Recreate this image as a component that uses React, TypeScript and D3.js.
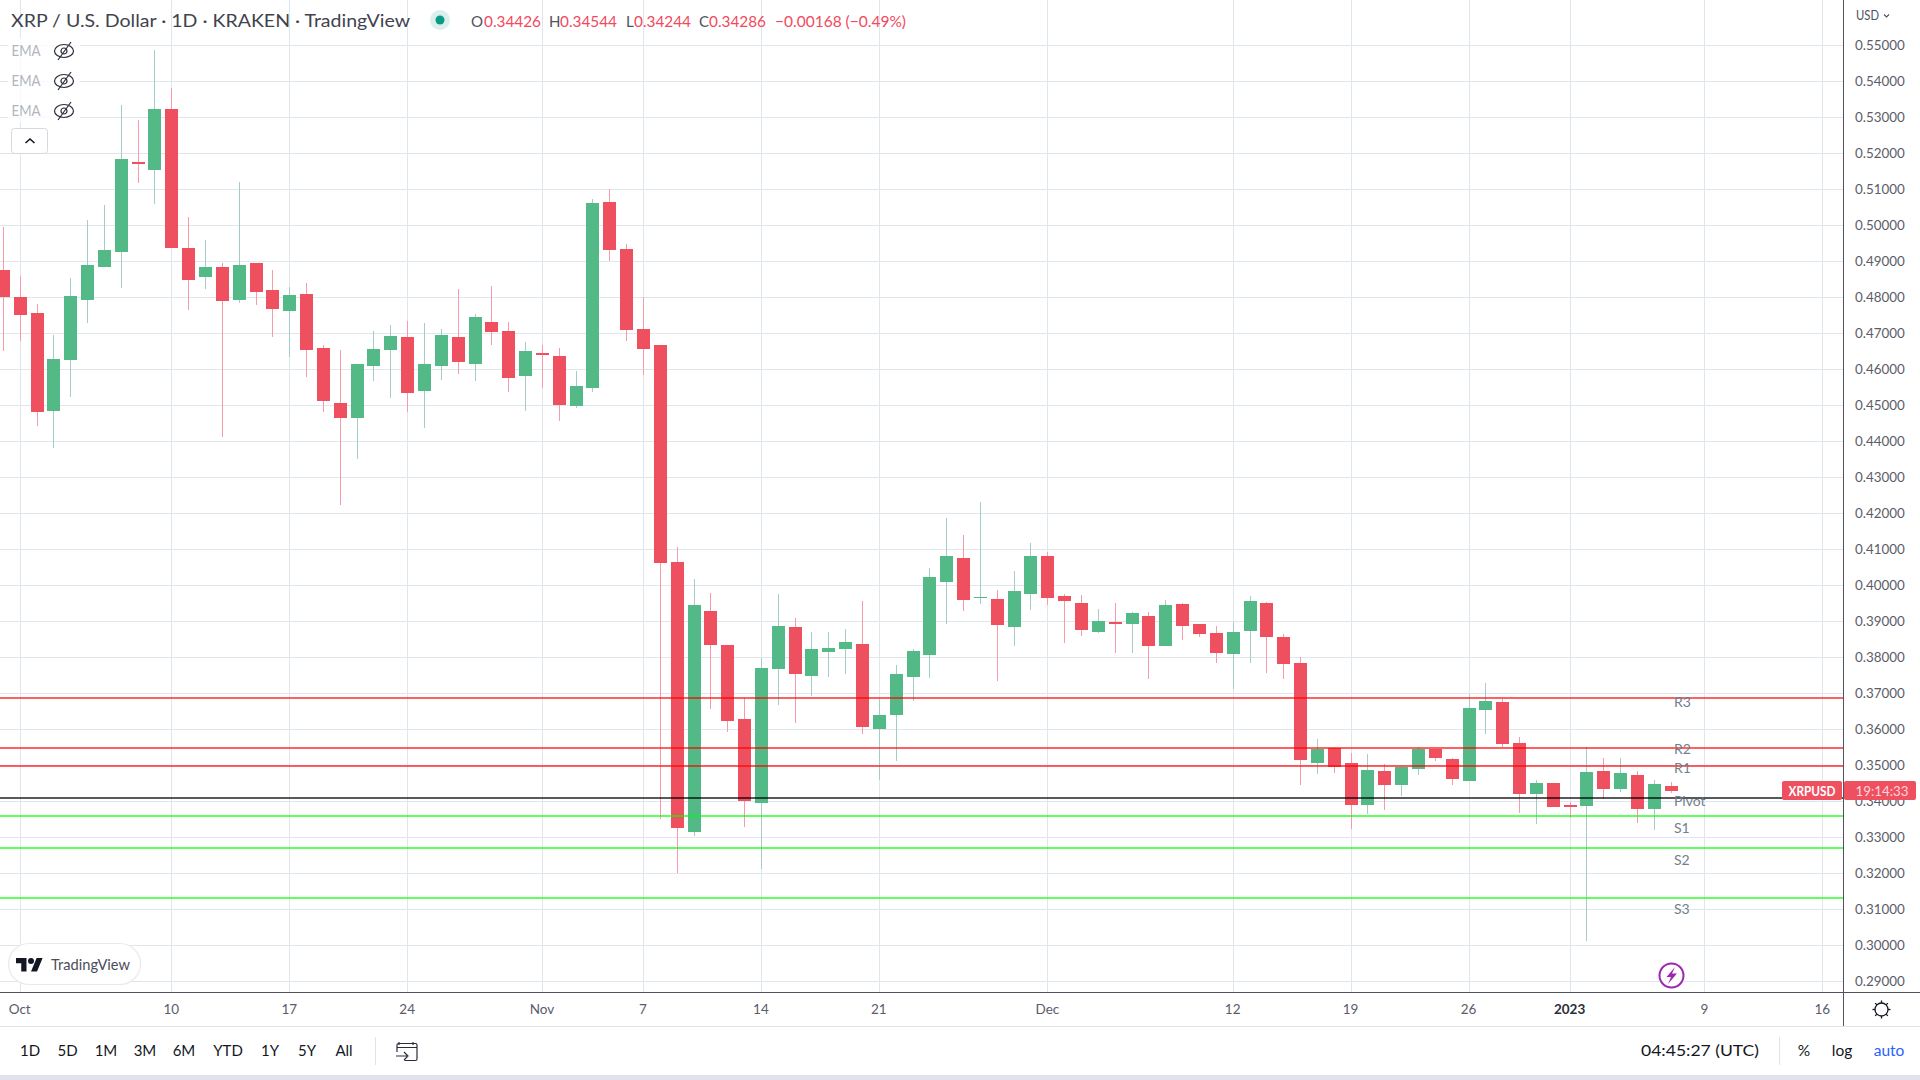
import * as d3 from 'd3';
import React, { useRef, useEffect } from 'react';

const W = 1920;
const H = 1080;
const plotRight = 1843;
const plotBottom = 992;
const FONT = 'Lato, "Noto Sans", sans-serif';

const opens = [.4876,.4801,.4756,.4484,.4626,.4793,.4884,.4926,.5176,.5154,.5323,.4937,.4856,.4884,.4793,.4895,.4820,.4762,.4809,.4659,.4506,.4465,.4609,.4654,.4690,.4540,.4609,.4690,.4615,.4731,.4706,.4581,.4645,.4637,.4498,.4548,.5065,.4934,.4712,.4668,.4065,.3315,.3929,.3834,.3629,.3395,.3768,.3884,.3748,.3815,.3823,.3837,.3601,.3640,.3745,.3806,.4009,.4076,.3965,.3962,.3884,.3976,.4081,.3970,.3951,.3870,.3898,.3893,.3915,.3831,.3948,.3893,.3868,.3809,.3873,.3951,.3856,.3784,.3506,.3548,.3506,.3390,.3484,.3445,.3490,.3545,.3518,.3456,.3654,.3676,.3562,.3420,.3451,.3390,.3387,.3484,.3434,.3473,.3379,.34426];
const highs = [.4996,.4859,.4781,.4695,.4854,.5015,.5056,.5334,.5293,.5487,.5381,.5023,.4959,.4895,.5120,.4895,.4876,.4829,.4840,.4668,.4654,.4615,.4706,.4723,.4734,.4729,.4712,.4823,.4754,.4831,.4731,.4676,.4668,.4659,.4595,.5073,.5100,.4948,.4801,.4668,.4106,.4018,.3979,.3834,.3687,.3798,.3976,.3909,.3870,.3870,.3879,.3956,.3684,.3779,.3823,.4048,.4187,.4140,.4231,.3987,.4040,.4118,.4093,.3976,.3973,.3934,.3951,.3926,.3926,.3959,.3951,.3893,.3887,.3898,.3970,.3954,.3865,.3800,.3573,.3551,.3534,.3531,.3504,.3498,.3551,.3545,.3520,.3698,.3729,.3684,.3579,.3459,.3451,.3398,.3551,.3520,.3520,.3484,.3459,.34544];
const lows = [.4652,.4680,.4443,.4382,.4524,.4729,.4884,.4826,.5118,.5059,.4937,.4765,.4823,.4412,.4784,.4779,.4690,.4634,.4579,.4481,.4224,.4352,.4568,.4520,.4481,.4437,.4570,.4587,.4568,.4668,.4537,.4484,.4548,.4456,.4493,.4537,.4901,.4679,.4584,.3352,.3201,.3304,.3656,.3593,.3329,.3212,.3668,.3618,.3693,.3745,.3754,.3587,.3459,.3512,.3679,.3743,.3893,.3929,.3948,.3734,.3831,.3931,.3945,.3840,.3859,.3868,.3812,.3812,.3740,.3831,.3848,.3856,.3784,.3712,.3784,.3756,.3740,.3445,.3476,.3479,.3323,.3365,.3376,.3415,.3473,.3512,.3445,.3456,.3587,.3551,.3368,.3337,.3384,.3354,.3012,.3406,.3426,.3340,.3320,.34244];
const closes = [.4802,.4751,.4481,.4629,.4804,.4890,.4931,.5184,.5170,.5323,.4937,.4848,.4884,.4790,.4890,.4815,.4768,.4806,.4654,.4512,.4465,.4615,.4656,.4693,.4534,.4615,.4695,.4620,.4745,.4704,.4576,.4651,.4640,.4501,.4554,.5062,.4931,.4709,.4656,.4062,.3326,.3945,.3834,.3623,.3401,.3770,.3887,.3754,.3823,.3826,.3843,.3606,.3640,.3754,.3818,.4023,.4081,.3959,.3968,.3890,.3984,.4081,.3965,.3956,.3876,.3901,.3893,.3923,.3831,.3945,.3887,.3865,.3812,.3870,.3956,.3856,.3781,.3515,.3545,.3495,.3390,.3487,.3445,.3495,.3545,.3520,.3462,.3659,.3679,.3559,.3420,.3451,.3384,.3384,.3481,.3434,.3479,.3379,.3448,.34286];
const days = d3.utcDay.range(new Date(Date.UTC(2022, 8, 30)), new Date(Date.UTC(2023, 0, 8)));

const priceTicks = [.55,.54,.53,.52,.51,.50,.49,.48,.47,.46,.45,.44,.43,.42,.41,.40,.39,.38,.37,.36,.35,.34,.33,.32,.31,.30,.29];
const timeTicks = [
  Date.UTC(2022, 9, 1), Date.UTC(2022, 9, 10), Date.UTC(2022, 9, 17), Date.UTC(2022, 9, 24),
  Date.UTC(2022, 10, 1), Date.UTC(2022, 10, 7), Date.UTC(2022, 10, 14), Date.UTC(2022, 10, 21),
  Date.UTC(2022, 11, 1), Date.UTC(2022, 11, 12), Date.UTC(2022, 11, 19), Date.UTC(2022, 11, 26),
  Date.UTC(2023, 0, 1), Date.UTC(2023, 0, 9), Date.UTC(2023, 0, 16),
].map((d) => new Date(d));
const timeLabels = ['Oct', '10', '17', '24', 'Nov', '7', '14', '21', 'Dec', '12', '19', '26', '2023', '9', '16'];

const pivotNames = ['R3', 'R2', 'R1', 'Pivot', 'S1', 'S2', 'S3'];
const pivotValues = [.3688, .3548, .3498, .3409, .3359, .3270, .3131];
const pivotColors = ['#ff0000', '#ff0000', '#ff0000', '#000000', '#00ff00', '#00ff00', '#00ff00'];
const pivotLabelPrices = [.3677, .3545, .3491, .3402, .3326, .3238, .3102];

const ranges = ['1D', '5D', '1M', '3M', '6M', 'YTD', '1Y', '5Y', 'All'];
const rangeCenters = [30, 67.5, 106, 145, 184, 228, 270, 307, 344];

const ohlcLetters = ['O', 'H', 'L', 'C'];
const ohlcValues = ['0.34426', '0.34544', '0.34244', '0.34286'];
const ohlcLetterX = [471, 549, 626, 699];
const ohlcValueX = [484, 560, 634, 709];

const emaRows = [51, 81, 111];

const RED = '#ef5060';
const GREEN = '#53b987';
const RED_WICK = '#f89aa8';
const GREEN_WICK = '#a4cdca';
const GRID = '#dfe7ed';

const y = d3.scaleLinear().domain([0.55, 0.29]).range([45.33, 981.33]);
const x = d3
  .scaleUtc()
  .domain([new Date(Date.UTC(2022, 8, 30)), new Date(Date.UTC(2023, 0, 16))])
  .range([3.33, 1822.8]);

const App = () => {
  const containerRef = useRef<SVGSVGElement>(null);

  useEffect(() => {
    if (!containerRef.current) return;
    const svg = d3.select(containerRef.current);
    svg.selectAll('*').remove();
    svg.append('rect').attr('width', W).attr('height', H).attr('fill', '#fff');

    // grid
    svg.append('g').selectAll('rect').data(priceTicks).join('rect')
      .attr('x', 0).attr('y', (d) => Math.floor(y(d))).attr('width', plotRight).attr('height', 1).attr('fill', GRID);
    svg.append('g').selectAll('rect').data(timeTicks).join('rect')
      .attr('x', (d) => Math.floor(x(d))).attr('y', 0).attr('width', 1).attr('height', plotBottom).attr('fill', GRID);

    // candles
    const px = (i: number) => Math.floor(x(days[i]));
    const idx = days.map((_, i) => i);
    const up = (i: number) => closes[i] >= opens[i];
    svg.append('g').selectAll('rect').data(idx).join('rect')
      .attr('x', (i) => px(i))
      .attr('y', (i) => Math.round(y(highs[i])))
      .attr('width', 1)
      .attr('height', (i) => Math.max(1, Math.round(y(lows[i])) - Math.round(y(highs[i]))))
      .attr('fill', (i) => (up(i) ? GREEN_WICK : RED_WICK));
    svg.append('g').selectAll('rect').data(idx).join('rect')
      .attr('x', (i) => px(i) - 6)
      .attr('y', (i) => Math.round(y(Math.max(opens[i], closes[i]))))
      .attr('width', 13)
      .attr('height', (i) => Math.max(1, Math.round(y(Math.min(opens[i], closes[i]))) - Math.round(y(Math.max(opens[i], closes[i])))))
      .attr('fill', (i) => (up(i) ? GREEN : RED));

    // pivot points
    svg.append('g').selectAll('rect').data(pivotValues).join('rect')
      .attr('x', 0).attr('y', (d) => Math.round(y(d)) - 1).attr('width', plotRight).attr('height', 2)
      .attr('fill', (_, i) => pivotColors[i])
      .attr('opacity', (_, i) => (i === 3 ? 0.65 : 0.62));
    svg.append('g').selectAll('text').data(pivotNames).join('text')
      .attr('x', 1674).attr('y', (_, i) => y(pivotLabelPrices[i])).attr('dy', '0.35em')
      .attr('font-family', FONT).attr('font-size', 14).attr('fill', '#6f7f8e').text((d) => d);

    // price axis
    svg.append('rect').attr('x', plotRight).attr('y', 0).attr('width', 1).attr('height', 1027).attr('fill', '#50535e');
    const yAxis = d3.axisRight(y).tickValues(priceTicks).tickFormat(d3.format('.5f')).tickSize(0).tickPadding(12);
    const yg = svg.append('g').attr('transform', `translate(${plotRight},0)`).call(yAxis);
    yg.select('.domain').remove();
    yg.selectAll('text').attr('font-family', FONT).attr('font-size', 13.4).attr('fill', '#5a5d68');

    // time axis
    svg.append('rect').attr('x', 0).attr('y', plotBottom).attr('width', W).attr('height', 1).attr('fill', '#50535e');
    svg.append('rect').attr('x', 0).attr('y', 1026).attr('width', W).attr('height', 1).attr('fill', '#e0e3eb');
    const xAxis = d3.axisBottom(x).tickValues(timeTicks)
      .tickFormat((_, i) => timeLabels[i]).tickSize(0).tickPadding(12);
    const xg = svg.append('g').attr('transform', `translate(-1,${plotBottom})`).call(xAxis);
    xg.select('.domain').remove();
    xg.selectAll('text').attr('font-family', FONT).attr('font-size', 13.5)
      .attr('font-weight', (_, i) => (timeLabels[i] === '2023' ? 700 : 400))
      .attr('fill', (_, i) => (timeLabels[i] === '2023' ? '#2a2e39' : '#5a5d68'));

    // title row
    const label = (t: string, lx: number, ly: number, size: number, fill: string, anchor = 'start', weight = 400, len?: number) => {
      const el = svg.append('text').attr('x', lx).attr('y', ly).attr('dy', '0.35em')
        .attr('font-family', FONT).attr('font-size', size).attr('fill', fill)
        .attr('text-anchor', anchor).attr('font-weight', weight).text(t);
      if (len) el.attr('textLength', len).attr('lengthAdjust', 'spacingAndGlyphs');
      return el;
    };
    label('XRP / U.S. Dollar · 1D · KRAKEN · TradingView', 11, 21.5, 17, '#3f434e', 'start', 400, 399);
    svg.append('circle').attr('cx', 440).attr('cy', 20).attr('r', 10).attr('fill', '#dcefec');
    svg.append('circle').attr('cx', 440).attr('cy', 20).attr('r', 4.5).attr('fill', '#0a9a85');
    ohlcLetters.forEach((l, i) => {
      label(l, ohlcLetterX[i], 21.5, 15, '#50535e');
      label(ohlcValues[i], ohlcValueX[i], 21.5, 15, '#f2495e', 'start', 400, 57);
    });
    label('−0.00168 (−0.49%)', 775, 21.5, 15, '#f2495e', 'start', 400, 131);

    // EMA legend
    svg.append('rect').attr('x', 8).attr('y', 38).attr('width', 72).attr('height', 84).attr('fill', '#fff').attr('opacity', 0.75);
    emaRows.forEach((ry) => {
      label('EMA', 11.5, ry, 14.5, '#b2b5be', 'start', 400, 29);
      const g = svg.append('g').attr('transform', `translate(64,${ry})`).attr('fill', 'none').attr('stroke', '#2a2e39').attr('stroke-width', 1.2);
      g.append('ellipse').attr('rx', 9.5).attr('ry', 6.5);
      g.append('circle').attr('r', 3);
      g.append('line').attr('x1', -6).attr('y1', 9).attr('x2', 7).attr('y2', -9);
    });
    svg.append('rect').attr('x', 11.5).attr('y', 128.5).attr('width', 36).attr('height', 25).attr('rx', 3)
      .attr('fill', '#fff').attr('stroke', '#d6d8e0');
    svg.append('path').attr('d', 'M25.5 143 L30 139 L34.5 143').attr('fill', 'none').attr('stroke', '#131722').attr('stroke-width', 1.6);

    // TradingView badge
    svg.append('rect').attr('x', 8.5).attr('y', 943.5).attr('width', 132).attr('height', 41).attr('rx', 20.5)
      .attr('fill', '#fff').attr('stroke', '#e9eaee').attr('stroke-width', 1.2);
    const logo = svg.append('g').attr('transform', 'translate(16,955) scale(0.75)').attr('fill', '#131722');
    logo.append('path').attr('d', 'M14 22H7V11H0V4h14v18zM28 22h-8l7.5-18h8L28 22z');
    logo.append('circle').attr('cx', 20).attr('cy', 8).attr('r', 4);
    label('TradingView', 51, 965, 15, '#4a4e5a', 'start', 400, 79);

    // bolt marker
    svg.append('circle').attr('cx', 1671.5).attr('cy', 975.5).attr('r', 12).attr('fill', '#fff').attr('stroke', '#9c27b0').attr('stroke-width', 2);
    svg.append('path').attr('d', 'M1675 967 L1666.5 977 L1671 977 L1668 984 L1677 973.5 L1672 973.5 Z').attr('fill', '#9c27b0');

    // price tags
    svg.append('rect').attr('x', 1782).attr('y', 781).attr('width', 60).attr('height', 19).attr('rx', 2).attr('fill', RED);
    label('XRPUSD', 1812, 791, 13, '#fff', 'middle', 700, 47);
    svg.append('rect').attr('x', 1844).attr('y', 781).attr('width', 72).attr('height', 19).attr('rx', 2).attr('fill', RED);
    label('19:14:33', 1882, 791, 13.5, '#ffd5da', 'middle', 400, 53);
    label('USD', 1856, 16, 12.5, '#4b5060', 'start', 400, 23);
    svg.append('path').attr('d', 'M1884 14.5 L1886.5 17 L1889 14.5').attr('fill', 'none').attr('stroke', '#4b5060').attr('stroke-width', 1.1);

    // gear
    const gear = svg.append('g').attr('transform', 'translate(1881.5,1009.5)').attr('fill', 'none').attr('stroke', '#131722').attr('stroke-width', 1.3);
    gear.append('circle').attr('r', 6.5);
    d3.range(8).forEach((k) => {
      const a = (k * Math.PI) / 4;
      gear.append('line').attr('x1', 6.5 * Math.cos(a)).attr('y1', 6.5 * Math.sin(a)).attr('x2', 9 * Math.cos(a)).attr('y2', 9 * Math.sin(a));
    });

    // bottom toolbar
    ranges.forEach((r, i) => label(r, rangeCenters[i], 1051, 15, '#131722', 'middle'));
    svg.append('rect').attr('x', 375).attr('y', 1037).attr('width', 1).attr('height', 28).attr('fill', '#e0e3eb');
    svg.append('path').attr('d', 'M399 1045 v-3 M413 1045 v-3 M397 1052 v-7 a1.5 1.5 0 0 1 1.5 -1.5 h17 a1.5 1.5 0 0 1 1.5 1.5 v14 a1.5 1.5 0 0 1 -1.5 1.5 h-11 M397 1047.5 h20 M396 1056 h11 M404 1052 l4 4 l-4 4')
      .attr('fill', 'none').attr('stroke', '#2a2e39').attr('stroke-width', 1.2);
    label('04:45:27 (UTC)', 1641, 1051, 15.5, '#131722', 'start', 400, 118);
    svg.append('rect').attr('x', 1779).attr('y', 1037).attr('width', 1).attr('height', 28).attr('fill', '#e0e3eb');
    label('%', 1804, 1051, 15.5, '#131722', 'middle');
    label('log', 1842, 1051, 15.5, '#131722', 'middle');
    label('auto', 1889, 1051, 15.5, '#2962ff', 'middle');
    svg.append('rect').attr('x', 0).attr('y', 1075).attr('width', W).attr('height', 5).attr('fill', '#e0e3eb');
  }, []);

  return (
    <svg
      ref={containerRef}
      width={W}
      height={H}
      style={{ position: 'absolute', left: 0, top: 0, display: 'block' }}
    />
  );
};

export default App;
